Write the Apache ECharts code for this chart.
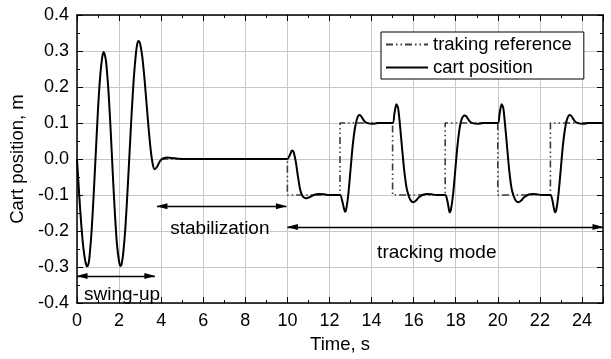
<!DOCTYPE html>
<html>
<head>
<meta charset="utf-8">
<script src="https://cdn.jsdelivr.net/npm/echarts@6/dist/echarts.min.js"></script>
<style>
  html, body { margin: 0; padding: 0; background: #fff; }
  #chart { width: 611px; height: 359px; }
</style>
</head>
<body>
<div id="chart"></div>
<script>
// Cart position response: swing-up, stabilization, then square-wave tracking
const cartTime = [
  0, 0.1, 0.2, 0.3, 0.4, 0.48, 0.55, 0.6, 0.7, 0.8, 0.9, 1.0, 1.1, 1.2, 1.27, 1.35, 1.4, 1.5, 1.6, 1.7,
  1.8, 1.9, 2.0, 2.06, 2.12, 2.2, 2.3, 2.4, 2.5, 2.6, 2.7, 2.8, 2.87, 2.93, 3.0, 3.1, 3.2, 3.3, 3.4, 3.5,
  3.6, 3.69, 3.8, 3.9, 4.0, 4.15, 4.3, 4.5, 4.8, 5.2, 10.0,
  10.1, 10.2, 10.25, 10.3, 10.4, 10.5, 10.6, 10.7, 10.8, 10.92, 11.05, 11.25, 11.5, 11.75, 12.0, 12.5,
  12.6, 12.68, 12.74, 12.8, 12.9, 13.0, 13.1, 13.2, 13.3, 13.42, 13.5, 13.6, 13.7, 13.85, 14.05, 14.3, 15.0,
  15.08, 15.18, 15.26, 15.35, 15.45, 15.55, 15.65, 15.75, 15.85, 15.98, 16.1, 16.25, 16.45, 16.65, 16.85, 17.1, 17.5,
  17.6, 17.66, 17.71, 17.78, 17.88, 17.98, 18.08, 18.18, 18.28, 18.42, 18.5, 18.6, 18.7, 18.85, 19.05, 19.3, 20.0,
  20.08, 20.18, 20.26, 20.35, 20.45, 20.55, 20.65, 20.75, 20.85, 20.97, 21.1, 21.25, 21.45, 21.65, 21.85, 22.1, 22.5,
  22.6, 22.66, 22.72, 22.79, 22.89, 22.99, 23.09, 23.19, 23.29, 23.42, 23.5, 23.6, 23.7, 23.85, 24.05, 24.3, 25.0
];
const cartPos = [
  0, -0.095, -0.18, -0.245, -0.285, -0.298, -0.29, -0.268, -0.195, -0.09, 0.025, 0.14, 0.228, 0.283, 0.297, 0.282, 0.26, 0.185, 0.08, -0.04,
  -0.15, -0.237, -0.285, -0.297, -0.292, -0.26, -0.19, -0.09, 0.02, 0.13, 0.225, 0.293, 0.322, 0.328, 0.32, 0.285, 0.228, 0.158, 0.088, 0.027,
  -0.014, -0.028, -0.022, -0.01, -0.002, 0.003, 0.004, 0.003, 0.001, 0, 0,
  0.009, 0.022, 0.024, 0.019, -0.008, -0.048, -0.083, -0.101, -0.107, -0.109, -0.106, -0.1, -0.097, -0.098, -0.1, -0.1,
  -0.115, -0.135, -0.146, -0.138, -0.095, -0.03, 0.035, 0.082, 0.11, 0.122, 0.119, 0.11, 0.103, 0.099, 0.098, 0.1, 0.1,
  0.124, 0.152, 0.142, 0.095, 0.03, -0.03, -0.075, -0.1, -0.114, -0.12, -0.116, -0.106, -0.099, -0.097, -0.098, -0.1, -0.1,
  -0.115, -0.134, -0.148, -0.138, -0.095, -0.03, 0.035, 0.083, 0.11, 0.121, 0.119, 0.11, 0.103, 0.099, 0.098, 0.1, 0.1,
  0.124, 0.152, 0.142, 0.093, 0.028, -0.035, -0.08, -0.102, -0.115, -0.12, -0.116, -0.106, -0.099, -0.097, -0.098, -0.1, -0.1,
  -0.116, -0.135, -0.148, -0.138, -0.094, -0.03, 0.035, 0.082, 0.11, 0.122, 0.119, 0.11, 0.103, 0.099, 0.098, 0.1, 0.1
];

// Tracking reference (square wave, +/-0.1 m every 2.5 s)
const refTime = [4, 10, 10, 12.5, 12.5, 15, 15, 17.5, 17.5, 20, 20, 22.5, 22.5, 25];
const refPos  = [0, 0, -0.1, -0.1, 0.1, 0.1, -0.1, -0.1, 0.1, 0.1, -0.1, -0.1, 0.1, 0.1];

// Axis tick values
const xTicks = [0, 2, 4, 6, 8, 10, 12, 14, 16, 18, 20, 22, 24];
const xEnd = 25;
const yTicks = [-0.4, -0.3, -0.2, -0.1, 0.0, 0.1, 0.2, 0.3, 0.4];

// Operating phases shown under the curves
const phaseNames = ['swing-up', 'stabilization', 'tracking mode'];
const phaseStart = [0, 3.8, 10];
const phaseEnd = [3.7, 9.95, 25];

const FONT = '"Liberation Sans", Arial, Helvetica, sans-serif';
const zip = (a, b) => a.map((v, i) => [v, b[i]]);

const xMin = xTicks[0], xStep = xTicks[1] - xTicks[0];
const yMin = yTicks[0], yMax = yTicks[yTicks.length - 1], yStep = +(yTicks[1] - yTicks[0]).toFixed(3);

const arrowY = [-0.325, -0.131, -0.189];
const labelPos = [[2.14, -0.376], [6.79, -0.193], [17.1, -0.259]];
const arrowHead = { symbolSize: [6, 11], symbolOffset: [0, 5] };

const frameAxis = (extra) => Object.assign({
  type: 'value',
  axisLine: { show: true, onZero: false, lineStyle: { color: '#000', width: 1.5 } },
  axisTick: { show: true, inside: true, length: 6, lineStyle: { color: '#000', width: 1 } },
  minorTick: { show: true, splitNumber: 2, length: 3, lineStyle: { color: '#000', width: 1 } },
  splitLine: { show: false },
  axisLabel: { show: false }
}, extra);

const chart = echarts.init(document.getElementById('chart'), null, { renderer: 'canvas' });
chart.setOption({
  animation: false,
  backgroundColor: '#fff',
  textStyle: { fontFamily: FONT },
  grid: { left: 77, top: 15, right: 8, bottom: 52 },
  legend: {
    orient: 'vertical',
    left: 381,
    top: 32,
    padding: [3, 12, 2, 4],
    itemGap: 4,
    itemWidth: 42,
    itemHeight: 14,
    backgroundColor: '#fff',
    borderColor: '#000',
    borderWidth: 1,
    borderRadius: 0,
    itemStyle: { opacity: 0 },
    textStyle: { fontFamily: FONT, fontSize: 18.5, color: '#000', lineHeight: 18 },
    data: ['traking reference', 'cart position']
  },
  xAxis: [
    frameAxis({
      position: 'bottom', min: xMin, max: xEnd, interval: xStep,
      name: 'Time, s', nameLocation: 'middle', nameGap: 30,
      nameTextStyle: { fontFamily: FONT, fontSize: 18.5, color: '#000' },
      splitLine: { show: true, lineStyle: { color: '#c8c8c8', width: 1 } },
      axisLabel: { show: true, margin: 9, fontFamily: FONT, fontSize: 18, color: '#000', showMaxLabel: false,
        formatter: v => String(Math.round(v)) }
    }),
    frameAxis({ position: 'top', min: xMin, max: xEnd, interval: xStep })
  ],
  yAxis: [
    frameAxis({
      position: 'left', min: yMin, max: yMax, interval: yStep,
      name: 'Cart position, m', nameLocation: 'middle', nameGap: 49,
      nameTextStyle: { fontFamily: FONT, fontSize: 18.5, color: '#000' },
      splitLine: { show: true, lineStyle: { color: '#c8c8c8', width: 1 } },
      axisLabel: { show: true, margin: 8, fontFamily: FONT, fontSize: 18, color: '#000',
        formatter: v => (Math.abs(v) < 1e-9 ? 0 : v).toFixed(1) }
    }),
    frameAxis({ position: 'right', min: yMin, max: yMax, interval: yStep })
  ],
  series: [
    {
      name: 'traking reference',
      type: 'line',
      xAxisIndex: 0, yAxisIndex: 0,
      symbol: 'none',
      data: zip(refTime, refPos),
      lineStyle: { color: '#3c3c3c', width: 1.6, type: [7, 3, 1.5, 3, 1.5, 3] },
      itemStyle: { color: '#3c3c3c' },
      z: 2
    },
    {
      name: 'cart position',
      type: 'line',
      xAxisIndex: 0, yAxisIndex: 0,
      symbol: 'none',
      smooth: 0.25,
      data: zip(cartTime, cartPos),
      lineStyle: { color: '#000', width: 2 },
      itemStyle: { color: '#000' },
      z: 3,
      markLine: {
        silent: true,
        animation: false,
        symbol: ['triangle', 'triangle'],
        lineStyle: { color: '#000', width: 1.3, type: 'solid' },
        itemStyle: { color: '#000' },
        label: { show: false },
        emphasis: { disabled: true },
        data: phaseNames.map((n, i) => [
          Object.assign({ coord: [phaseStart[i], arrowY[i]] }, arrowHead),
          Object.assign({ coord: [phaseEnd[i], arrowY[i]] }, arrowHead)
        ])
      },
      markPoint: {
        silent: true,
        animation: false,
        symbol: 'circle',
        symbolSize: 0,
        label: { show: true, position: 'inside', formatter: '{b}', fontFamily: FONT, fontSize: 19, color: '#000' },
        data: phaseNames.map((n, i) => ({ name: n, coord: labelPos[i] }))
      }
    }
  ]
});
</script>
</body>
</html>
